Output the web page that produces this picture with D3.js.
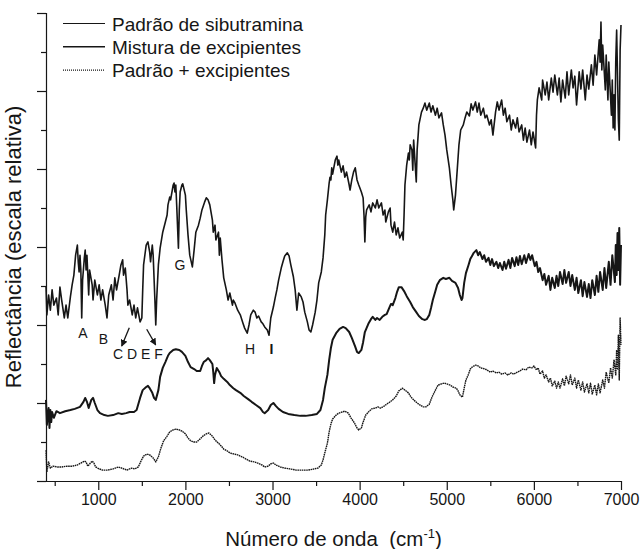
<!DOCTYPE html>
<html>
<head>
<meta charset="utf-8">
<script src="https://cdn.jsdelivr.net/npm/d3@7"></script>
<style>
  html, body { margin: 0; padding: 0; background: #fff; }
  svg { display: block; font-family: "Liberation Sans", Arial, sans-serif; }
</style>
</head>
<body>
<div id="chart"></div>
<script>
// wavenumber (cm-1), relative reflectance (arbitrary units, one y tick = 1)
const padraoSibutramina = [
  [400,5.00],[410,4.26],[430,4.77],[450,4.38],[470,4.90],[490,4.51],[520,4.69],[540,4.26],[560,4.97],[580,4.64],
  [610,4.18],[630,4.51],[650,4.18],[680,4.72],[700,5.03],[720,5.28],[740,5.79],[760,6.05],[770,5.62],[780,5.36],
  [790,5.79],[800,5.41],[810,4.18],[820,5.15],[840,5.72],[850,5.92],[860,5.41],[870,5.79],[880,5.28],[890,4.77],
  [900,5.41],[930,5.03],[940,4.64],[960,5.15],[990,4.77],[1010,5.03],[1030,4.64],[1050,4.90],[1080,4.51],[1100,4.18],
  [1120,4.77],[1150,5.03],[1170,4.64],[1190,5.21],[1210,4.90],[1240,5.28],[1260,5.54],[1280,5.67],[1290,5.28],[1310,5.46],
  [1330,4.90],[1340,4.51],[1360,4.64],[1390,4.26],[1410,4.51],[1430,4.18],[1450,4.44],[1480,4.08],[1500,4.18],[1510,4.90],
  [1520,5.54],[1550,6.05],[1570,6.13],[1590,5.87],[1600,5.62],[1620,6.05],[1630,5.79],[1650,4.64],[1660,4.00],[1670,4.64],
  [1690,5.54],[1710,5.97],[1740,6.38],[1770,6.64],[1790,6.82],[1800,7.08],[1820,7.28],[1830,7.21],[1860,7.59],[1870,7.64],
  [1880,7.41],[1890,7.59],[1900,7.08],[1920,5.97],[1930,6.95],[1940,7.41],[1960,7.59],[1970,7.62],[2000,7.33],[2010,6.95],
  [2030,6.31],[2050,5.79],[2080,5.49],[2100,5.92],[2120,6.38],[2150,6.56],[2170,6.74],[2190,6.95],[2220,7.15],[2240,7.26],
  [2260,7.21],[2280,7.08],[2310,6.69],[2320,6.38],[2340,6.56],[2350,6.18],[2380,6.38],[2390,5.79],[2400,6.23],[2420,5.67],
  [2440,5.21],[2470,4.90],[2490,4.64],[2510,4.82],[2540,4.51],[2550,4.64],[2570,4.56],[2600,4.38],[2630,4.26],[2660,4.05],
  [2680,3.92],[2710,3.79],[2730,4.00],[2750,4.26],[2780,4.38],[2800,4.33],[2820,4.18],[2840,4.23],[2870,4.08],[2890,4.03],
  [2910,3.95],[2940,3.87],[2960,3.74],[2980,4.18],[3010,4.46],[3030,4.69],[3050,4.90],[3070,5.15],[3100,5.46],[3120,5.62],
  [3140,5.77],[3170,5.85],[3190,5.77],[3210,5.54],[3240,5.23],[3260,4.90],[3280,4.38],[3300,4.82],[3330,4.72],[3350,4.59],
  [3370,4.33],[3400,4.08],[3420,3.87],[3440,3.82],[3460,4.00],[3490,4.33],[3510,4.64],[3530,5.08],[3560,5.36],[3580,5.72],
  [3600,6.31],[3610,6.82],[3630,7.21],[3650,7.64],[3660,7.79],[3670,7.72],[3680,8.03],[3690,7.87],[3720,8.23],[3740,8.33],
  [3750,8.10],[3760,8.23],[3790,7.92],[3810,8.08],[3830,7.79],[3850,7.92],[3880,7.59],[3890,7.46],[3910,7.72],[3930,7.92],
  [3950,8.03],[3970,7.72],[3990,7.59],[4020,7.41],[4040,7.26],[4050,6.82],[4060,6.13],[4070,6.77],[4080,6.95],[4110,7.08],
  [4130,6.90],[4150,7.13],[4180,7.00],[4200,7.21],[4220,7.00],[4250,7.13],[4270,6.82],[4290,6.95],[4300,6.64],[4330,6.90],
  [4350,7.00],[4360,6.56],[4380,6.38],[4400,6.64],[4420,6.31],[4440,6.49],[4460,6.23],[4490,6.38],[4500,6.18],[4510,6.82],
  [4520,7.59],[4540,8.10],[4560,8.41],[4570,8.23],[4580,8.62],[4600,8.49],[4610,7.97],[4620,8.74],[4650,7.67],[4660,8.49],
  [4680,9.13],[4710,9.46],[4730,9.56],[4750,9.69],[4770,9.51],[4800,9.69],[4820,9.46],[4840,9.62],[4870,9.38],[4890,9.56],
  [4910,9.31],[4940,9.44],[4960,9.13],[4980,8.87],[5000,8.49],[5030,8.03],[5050,7.59],[5070,7.21],[5080,6.95],[5100,7.33],
  [5120,7.97],[5140,8.62],[5160,9.00],[5190,9.13],[5210,9.31],[5230,9.46],[5260,9.36],[5280,9.67],[5300,9.51],[5330,9.72],
  [5350,9.46],[5370,9.69],[5390,9.38],[5420,9.56],[5440,9.31],[5460,9.38],[5490,9.13],[5510,9.26],[5530,8.87],[5560,9.46],
  [5580,9.72],[5600,9.51],[5630,9.77],[5650,9.38],[5670,9.56],[5690,9.21],[5720,9.38],[5740,9.00],[5760,9.26],[5790,9.05],
  [5810,9.31],[5830,8.95],[5860,9.13],[5880,8.74],[5900,9.05],[5920,8.69],[5950,9.00],[5970,8.62],[5990,8.95],[6020,8.54],
  [6030,9.38],[6040,9.77],[6060,10.08],[6090,9.77],[6100,10.28],[6130,9.90],[6150,10.23],[6170,9.77],[6200,10.33],[6220,9.97],
  [6240,10.41],[6270,9.90],[6290,10.33],[6310,9.72],[6330,10.28],[6360,9.82],[6380,10.49],[6400,9.90],[6430,10.54],[6450,10.08],
  [6470,10.38],[6490,9.64],[6520,10.49],[6540,10.05],[6560,10.54],[6590,9.77],[6610,10.41],[6630,10.05],[6660,10.67],[6680,10.15],
  [6700,10.92],[6720,10.41],[6750,11.31],[6760,10.74],[6770,11.77],[6780,10.54],[6790,11.18],[6820,10.03],[6830,10.92],[6850,9.77],
  [6860,10.74],[6890,9.38],[6900,10.28],[6910,9.05],[6920,9.90],[6930,9.00],[6940,10.79],[6950,11.56],[6970,9.26],[6980,8.74],
  [6990,11.05],[7000,11.69]
];

const misturaExcipientes = [
  [400,2.08],[410,1.44],[430,1.87],[440,1.36],[450,1.82],[460,1.51],[470,1.77],[490,1.62],[520,1.79],[560,1.74],
  [620,1.79],[680,1.82],[730,1.85],[790,1.90],[830,2.03],[850,2.13],[870,2.03],[890,1.87],[920,2.08],[940,2.13],
  [960,2.00],[990,1.82],[1020,1.74],[1070,1.69],[1110,1.67],[1170,1.69],[1230,1.74],[1270,1.72],[1320,1.74],[1360,1.77],
  [1410,1.77],[1440,1.82],[1480,2.13],[1510,2.33],[1550,2.41],[1570,2.44],[1590,2.38],[1620,2.26],[1640,2.13],[1660,2.08],
  [1690,2.33],[1710,2.67],[1740,2.90],[1770,3.05],[1800,3.21],[1820,3.28],[1860,3.36],[1890,3.38],[1930,3.36],[1960,3.31],
  [2000,3.21],[2030,3.05],[2060,2.92],[2100,2.87],[2130,2.82],[2170,2.82],[2190,2.95],[2210,3.05],[2240,3.10],[2260,3.15],
  [2280,3.10],[2310,3.00],[2320,2.79],[2330,2.51],[2340,2.72],[2360,2.90],[2390,2.79],[2410,2.69],[2440,2.62],[2480,2.54],
  [2510,2.46],[2550,2.38],[2580,2.33],[2630,2.26],[2670,2.18],[2720,2.10],[2760,2.03],[2810,1.95],[2860,1.87],[2890,1.77],
  [2910,1.74],[2950,1.82],[2980,1.95],[3010,2.00],[3040,1.92],[3070,1.85],[3120,1.77],[3180,1.72],[3250,1.69],[3320,1.67],
  [3380,1.67],[3450,1.69],[3510,1.72],[3550,1.82],[3580,2.08],[3600,2.38],[3630,2.72],[3650,3.10],[3670,3.41],[3690,3.62],
  [3730,3.79],[3770,3.90],[3810,3.95],[3840,3.92],[3880,3.82],[3910,3.67],[3950,3.44],[3970,3.31],[3990,3.28],[4020,3.36],
  [4040,3.56],[4060,3.82],[4100,4.03],[4130,4.15],[4150,4.21],[4180,4.13],[4200,4.18],[4230,4.13],[4260,4.21],[4290,4.26],
  [4310,4.28],[4340,4.44],[4360,4.54],[4380,4.51],[4410,4.69],[4430,4.85],[4450,4.97],[4480,4.97],[4510,4.87],[4540,4.74],
  [4580,4.59],[4610,4.46],[4650,4.33],[4680,4.23],[4720,4.15],[4750,4.13],[4770,4.15],[4800,4.26],[4820,4.44],[4840,4.64],
  [4870,4.87],[4890,5.03],[4920,5.15],[4960,5.21],[4990,5.18],[5030,5.21],[5060,5.13],[5100,5.08],[5130,4.95],[5150,4.77],
  [5170,4.64],[5180,4.69],[5200,5.08],[5220,5.33],[5250,5.54],[5270,5.69],[5290,5.77],[5310,5.85],[5340,5.92],[5360,5.79],
  [5380,5.87],[5410,5.69],[5430,5.79],[5450,5.62],[5480,5.72],[5500,5.54],[5520,5.69],[5540,5.51],[5570,5.62],[5590,5.46],
  [5610,5.59],[5640,5.41],[5660,5.62],[5680,5.44],[5710,5.67],[5730,5.46],[5750,5.72],[5780,5.51],[5800,5.74],[5820,5.54],
  [5840,5.77],[5860,5.56],[5890,5.79],[5910,5.59],[5940,5.82],[5960,5.67],[5980,5.79],[6010,5.51],[6030,5.62],[6050,5.36],
  [6070,5.46],[6100,5.15],[6120,5.31],[6140,5.03],[6170,5.26],[6190,4.90],[6210,5.21],[6240,4.95],[6260,5.26],[6280,5.00],
  [6300,5.36],[6330,5.05],[6350,5.41],[6370,5.08],[6400,5.36],[6420,5.00],[6440,5.28],[6470,4.90],[6490,5.21],[6510,4.82],
  [6540,5.15],[6560,4.74],[6580,5.10],[6610,4.72],[6630,5.05],[6650,4.69],[6670,5.15],[6700,4.77],[6720,5.26],[6740,4.85],
  [6760,5.36],[6790,4.90],[6810,5.46],[6830,4.95],[6860,5.62],[6880,5.03],[6900,5.79],[6930,5.10],[6940,6.05],[6950,5.28],
  [6960,6.36],[6970,5.41],[6980,6.49],[6990,5.03],[7000,6.05]
];

const padraoMaisExcipientes = [
  [400,0.79],[410,0.23],[430,0.49],[450,0.33],[480,0.38],[530,0.36],[580,0.36],[640,0.38],[700,0.38],[760,0.41],
  [800,0.46],[840,0.51],[860,0.49],[880,0.38],[910,0.46],[930,0.51],[950,0.46],[970,0.36],[1010,0.31],[1050,0.28],
  [1110,0.28],[1170,0.31],[1230,0.36],[1270,0.33],[1330,0.28],[1380,0.33],[1420,0.31],[1460,0.36],[1490,0.51],[1520,0.64],
  [1560,0.69],[1590,0.67],[1630,0.59],[1660,0.49],[1690,0.62],[1720,0.85],[1750,1.03],[1790,1.15],[1820,1.26],[1860,1.31],
  [1890,1.33],[1930,1.31],[1960,1.28],[2000,1.21],[2030,1.10],[2060,1.03],[2100,1.00],[2130,1.00],[2170,1.08],[2200,1.15],
  [2240,1.21],[2270,1.23],[2310,1.15],[2340,1.05],[2380,0.97],[2410,0.90],[2440,0.82],[2480,0.77],[2510,0.72],[2560,0.69],
  [2600,0.67],[2650,0.62],[2700,0.56],[2740,0.51],[2790,0.49],[2830,0.46],[2880,0.41],[2910,0.36],[2950,0.38],[2980,0.44],
  [3010,0.46],[3040,0.41],[3090,0.36],[3140,0.33],[3200,0.31],[3270,0.28],[3340,0.28],[3410,0.28],[3480,0.31],[3520,0.33],
  [3560,0.41],[3580,0.54],[3600,0.72],[3630,0.97],[3650,1.26],[3670,1.46],[3690,1.59],[3730,1.69],[3760,1.74],[3800,1.77],
  [3830,1.79],[3870,1.74],[3900,1.62],[3940,1.49],[3970,1.36],[3990,1.31],[4020,1.36],[4040,1.51],[4070,1.69],[4110,1.79],
  [4140,1.85],[4180,1.87],[4210,1.90],[4240,1.87],[4280,1.92],[4310,1.97],[4350,2.03],[4380,2.08],[4420,2.18],[4450,2.31],
  [4490,2.38],[4520,2.33],[4560,2.26],[4590,2.15],[4620,2.08],[4660,2.00],[4690,1.95],[4730,1.90],[4760,1.90],[4800,1.97],
  [4830,2.15],[4870,2.33],[4900,2.46],[4940,2.49],[4970,2.51],[5000,2.49],[5040,2.46],[5070,2.41],[5110,2.38],[5130,2.31],
  [5150,2.21],[5180,2.15],[5200,2.38],[5220,2.59],[5250,2.74],[5270,2.87],[5290,2.92],[5330,2.97],[5360,2.95],[5390,2.90],
  [5440,2.87],[5460,2.85],[5500,2.79],[5530,2.82],[5570,2.77],[5600,2.79],[5630,2.74],[5670,2.77],[5700,2.72],[5740,2.77],
  [5770,2.74],[5810,2.79],[5840,2.82],[5870,2.87],[5910,2.85],[5940,2.92],[5980,2.90],[6000,2.95],[6030,2.85],[6050,2.90],
  [6070,2.74],[6100,2.82],[6120,2.64],[6140,2.72],[6170,2.54],[6190,2.64],[6210,2.44],[6240,2.56],[6260,2.38],[6280,2.54],
  [6300,2.38],[6330,2.62],[6350,2.44],[6370,2.69],[6400,2.49],[6420,2.72],[6440,2.46],[6470,2.64],[6490,2.38],[6510,2.59],
  [6540,2.33],[6560,2.54],[6580,2.28],[6610,2.49],[6630,2.26],[6650,2.51],[6670,2.23],[6700,2.46],[6720,2.21],[6740,2.49],
  [6760,2.26],[6790,2.59],[6810,2.38],[6830,2.79],[6860,2.51],[6880,2.90],[6900,2.64],[6920,3.10],[6940,2.72],[6950,3.36],
  [6960,2.85],[6970,3.74],[6980,2.59],[6990,4.18],[7000,3.49]
];

const xMajorTicks = [1000, 2000, 3000, 4000, 5000, 6000, 7000];
const xMinorTicks = [500, 1500, 2500, 3500, 4500, 5500, 6500];
const yMajorTicks = [0, 2, 4, 6, 8, 10, 12];
const yMinorTicks = [1, 3, 5, 7, 9, 11];

const legendLabels = ["Padrão de sibutramina", "Mistura de excipientes", "Padrão + excipientes"];

// band letters [label, wavenumber, value]
const bandLabels = [
  ["A", 825, 3.67], ["B", 1060, 3.51], ["G", 1938, 5.41], ["H", 2741, 3.26]
];
const bandGroupLabel = ["C D E F", 1169, 3.13];
const bandBarLabel = ["I", 2988, 3.26];
// arrows [fromWn, fromV, toWn, toV]
const bandArrows = [[1356, 3.93, 1269, 3.46], [1556, 3.89, 1659, 3.49]];

const width = 642, height = 549;
const margin = { top: 13, right: 21, bottom: 68, left: 46 };

const svg = d3.select("#chart").append("svg")
  .attr("width", width).attr("height", height);
svg.append("rect").attr("width", width).attr("height", height).attr("fill", "#fff");

const x = d3.scaleLinear().domain([400, 7000]).range([margin.left, width - margin.right]);
const y = d3.scaleLinear().domain([0, 12]).range([height - margin.bottom, margin.top]);

const ink = "#161616";

// axes
const axisX = svg.append("g").attr("transform", `translate(0,${y(0)})`)
  .call(d3.axisBottom(x).tickValues(xMajorTicks).tickSize(9).tickPadding(4).tickFormat(d3.format("d")));
svg.append("g").attr("transform", `translate(0,${y(0)})`)
  .call(d3.axisBottom(x).tickValues(xMinorTicks).tickSize(5).tickFormat(""))
  .select(".domain").remove();
axisX.select(".domain").attr("d", `M${x(400)},0.5H${x(7000)}`);

const axisY = svg.append("g").attr("transform", `translate(${x(400)},0)`)
  .call(d3.axisLeft(y).tickValues(yMajorTicks).tickSize(9).tickFormat(""));
svg.append("g").attr("transform", `translate(${x(400)},0)`)
  .call(d3.axisLeft(y).tickValues(yMinorTicks).tickSize(5).tickFormat(""))
  .select(".domain").remove();
axisY.select(".domain").attr("d", `M0.5,${y(12)}V${y(0)}`);

svg.selectAll(".domain, .tick line").attr("stroke", ink).attr("stroke-width", 1.2);
svg.selectAll(".tick text").attr("fill", ink).attr("font-size", 16)
  .attr("font-family", "Liberation Sans, Arial, sans-serif");

// axis titles
const xTitle = svg.append("text").attr("x", (x(400) + x(7000)) / 2).attr("y", 546)
  .attr("text-anchor", "middle").attr("font-size", 20.5).attr("fill", ink)
  .style("white-space", "pre");
xTitle.append("tspan").text("Número de onda  (cm");
xTitle.append("tspan").attr("font-size", 13).attr("dy", -8).text("-1");
xTitle.append("tspan").attr("dy", 8).text(")");

svg.append("text").attr("transform", `translate(21,${(y(0) + y(12)) / 2}) rotate(-90)`)
  .attr("text-anchor", "middle").attr("font-size", 22).attr("fill", ink)
  .text("Reflectância (escala relativa)");

// spectra
const line = d3.line().x((d) => x(d[0])).y((d) => y(d[1]));
const series = [
  { data: padraoSibutramina, width: 1.6, dash: null },
  { data: misturaExcipientes, width: 2.0, dash: null },
  { data: padraoMaisExcipientes, width: 1.4, dash: "1.6 0.6" },
];
svg.append("g").selectAll("path").data(series).join("path")
  .attr("fill", "none").attr("stroke", ink)
  .attr("stroke-width", (s) => s.width)
  .attr("stroke-linejoin", "round")
  .attr("stroke-dasharray", (s) => s.dash)
  .attr("d", (s) => line(s.data));

// band annotations
const notes = svg.append("g").attr("fill", ink).attr("font-size", 14);
notes.selectAll("text.band").data(bandLabels).join("text").attr("class", "band")
  .attr("x", (d) => x(d[1])).attr("y", (d) => y(d[2])).attr("text-anchor", "middle").text((d) => d[0]);
notes.append("text").attr("x", x(bandGroupLabel[1])).attr("y", y(bandGroupLabel[2])).text(bandGroupLabel[0]);
notes.append("text").attr("x", x(bandBarLabel[1])).attr("y", y(bandBarLabel[2])).attr("text-anchor", "middle")
  .attr("font-weight", "bold").text(bandBarLabel[0]);

svg.append("defs").append("marker").attr("id", "head").attr("viewBox", "0 0 10 10")
  .attr("refX", 9).attr("refY", 5).attr("markerWidth", 7).attr("markerHeight", 7)
  .attr("orient", "auto").attr("markerUnits", "userSpaceOnUse")
  .append("path").attr("d", "M0,0L10,5L0,10Z").attr("fill", ink);
svg.append("g").selectAll("line").data(bandArrows).join("line")
  .attr("x1", (d) => x(d[0])).attr("y1", (d) => y(d[1]))
  .attr("x2", (d) => x(d[2])).attr("y2", (d) => y(d[3]))
  .attr("stroke", ink).attr("stroke-width", 1.3).attr("marker-end", "url(#head)");

// legend
const legend = svg.append("g").selectAll("g").data(legendLabels).join("g")
  .attr("transform", (d, i) => `translate(63,${23.5 + i * 23.3})`);
legend.append("line").attr("x1", 0).attr("x2", 42)
  .attr("stroke", ink).attr("stroke-width", (d, i) => i === 1 ? 1.6 : 1.2)
  .attr("stroke-dasharray", (d, i) => i === 2 ? "1 1" : null);
legend.append("text").attr("x", 49).attr("y", 7).attr("font-size", 19).attr("fill", ink).text((d) => d);
</script>
</body>
</html>
